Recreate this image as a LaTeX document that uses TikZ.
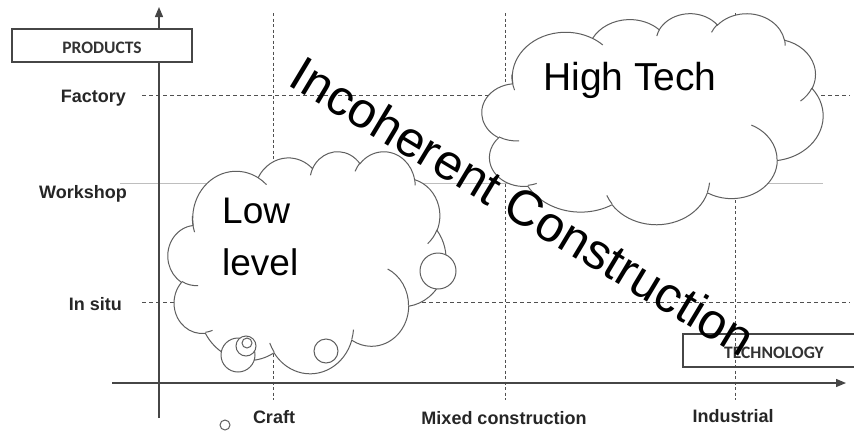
\documentclass[tikz,border=0pt]{standalone}
\usepackage{fontspec}
\setmainfont{Liberation Sans}
\newfontfamily\capsfont{Carlito}
\usetikzlibrary{arrows.meta}

% elliptical arc whose angles are visual (clockwise, y pointing down)
\newcommand\carc[4]{arc[x radius=#1, y radius=#2,
  start angle={atan2(#1*sin(#3),#2*cos(#3))},
  delta angle={mod(atan2(#1*sin(#3+#4),#2*cos(#3+#4))-atan2(#1*sin(#3),#2*cos(#3))+720,360)}]}

% cloud outline in a 432 x 432 box
\newcommand\cloudoutline{(39.00,143.70)
  \carc{67.53}{91.90}{-190.4875}{123.7805}
  \carc{53.33}{72.67}{-144.1024}{89.9452}
  \carc{43.65}{59.45}{-145.8079}{99.7230}
  \carc{48.57}{65.95}{-130.9861}{117.2417}
  \carc{53.33}{72.73}{-78.7089}{109.0269}
  \carc{67.75}{92.20}{-46.2673}{130.2690}
  \carc{57.85}{78.67}{0.6250}{114.0333}
  \carc{67.52}{92.15}{22.4516}{115.1726}
  \carc{77.20}{105.43}{66.2426}{75.7110}
  \carc{43.60}{59.18}{-274.9421}{146.7356}
  \carc{43.45}{59.45}{-246.8285}{152.5189} -- cycle}

% the small inner curls of the cloud
\newcommand\cloudcurls{
  (46.93,261.77) \carc{43.45}{59.45}{86.742}{26.4295}
  (69.28,348.99) \carc{43.60}{59.18}{73.6105}{11.4475}
  (164.78,390.90) \carc{67.52}{92.15}{137.6242}{14.0811}
  (288.27,347.51) \carc{67.52}{92.15}{6.4533}{15.9984}
  (341.29,229.54) \carc{57.85}{78.67}{-70.2924}{70.9174}
  (417.98,153.54) \carc{53.33}{72.73}{30.3180}{27.7515}
  (383.24,54.26) \carc{48.57}{65.95}{-13.7443}{14.8589}
  (290.78,39.52) \carc{48.57}{65.95}{-149.1815}{18.1954}
  (221.41,47.20) \carc{43.65}{59.45}{-163.4943}{17.3358}
  (140.00,51.92) \carc{67.53}{91.90}{-66.7070}{12.3194}
  (41.27,157.89) \carc{67.53}{91.90}{155.6353}{26.7459}}

\newcommand\drawcloud[4]{%
  \begin{scope}[shift={(#1,#2)}, x=#3pt, y=-#4pt]
    \filldraw[cloudline, fill=white] \cloudoutline;
    \draw[cloudline] \cloudcurls;
  \end{scope}}

\definecolor{axisgrey}{RGB}{70,70,70}
\definecolor{gridgrey}{RGB}{80,80,80}
\definecolor{cloudgrey}{RGB}{95,95,95}
\definecolor{thingrey}{RGB}{190,190,190}

\tikzset{
  axisline/.style={draw=axisgrey, line width=1.3pt, -{Triangle[length=10pt,width=8pt]}},
  gridline/.style={draw=gridgrey, line width=0.9pt, dash pattern=on 4pt off 3pt},
  gridvline/.style={draw=gridgrey, line width=0.9pt, dash pattern=on 3pt off 2.5pt},
  cloudline/.style={draw=cloudgrey, line width=1pt},
  labelbox/.style={draw=axisgrey, line width=1.2pt},
  boxtext/.style={font=\capsfont\bfseries\fontsize{17.5}{17.5}\selectfont, text=black!80, inner sep=0pt},
  axislabel/.style={font=\bfseries\fontsize{18}{18}\selectfont, text=black!85, inner sep=0pt},
  cloudtext/.style={font=\fontsize{37}{37}\selectfont, inner sep=0pt},
  bubble/.style={draw=cloudgrey, line width=1pt, fill=white},
}

\begin{document}
\begin{tikzpicture}[x=1pt, y=-1pt]
  \useasboundingbox[fill=white] (0,0) rectangle (854,434);

  % grid
  \coordinate (fl) at (142,95);  \coordinate (fr) at (850,95);
  \coordinate (sl) at (142,302); \coordinate (sr) at (850,302);
  \coordinate (wl) at (120,183); \coordinate (wr) at (823,183);
  \coordinate (ct) at (273,13);  \coordinate (cb) at (273,400);
  \coordinate (mt) at (505,13);  \coordinate (mb) at (505,400);
  \coordinate (it) at (735,13);  \coordinate (ib) at (735,400);
  \draw[gridline] (fl) -- (fr);
  \draw[gridline] (sl) -- (sr);
  \draw[draw=thingrey, line width=1pt] (wl) -- (wr);
  \draw[gridvline] (ct) -- (cb);
  \draw[gridvline] (mt) -- (mb);
  \draw[gridvline] (it) -- (ib);

  % axes
  \coordinate (yb) at (159,418); \coordinate (yt) at (159,7);
  \coordinate (xl) at (112,383); \coordinate (xr) at (846,383);
  \draw[axisline] (yb) -- (yt);
  \draw[axisline] (xl) -- (xr);

  % axis titles
  \draw[labelbox, fill=white] (12,29) rectangle (192,62);
  \node[boxtext, anchor=base] (products) at (102,53) {PRODUCTS};
  \draw[labelbox] (683,334) rectangle (870,367);
  \node[boxtext, anchor=base] (technology) at (774,358) {TECHNOLOGY};

  % level labels
  \node[axislabel, anchor=base east] (factory) at (126,102) {Factory};
  \node[axislabel, anchor=base east] (workshop) at (127,198) {Workshop};
  \node[axislabel, anchor=base east] (insitu) at (122,310) {In situ};
  \node[axislabel, anchor=base] (craft) at (274,423) {Craft};
  \node[axislabel, anchor=base] (mixed) at (504,424) {Mixed construction};
  \node[axislabel, anchor=base] (industrial) at (733,422) {Industrial};

  % clouds
  \drawcloud{168}{151}{0.6435}{0.5139}
  \drawcloud{482}{13}{0.7894}{0.4884}

  % bubbles
  \draw[bubble] (438,271) circle[radius=18];
  \draw[bubble] (326,351) circle[radius=12];
  \draw[bubble] (238,355) circle[radius=17];
  \draw[bubble] (246,346) circle[radius=10];
  \draw[bubble] (247,343) circle[radius=5];
  \draw[bubble] (225,425) circle[radius=5];

  % cloud texts
  \node[cloudtext, anchor=base west] (low) at (222,223) {Low};
  \node[cloudtext, anchor=base west] (level) at (222,275) {level};
  \node[cloudtext, font=\fontsize{39}{39}\selectfont, anchor=base west] (hightech) at (543,90) {High Tech};

  \node[font=\fontsize{50}{50}\selectfont, inner sep=0pt, rotate=-31] (incoherent) at (523,206) {Incoherent Construction};
\end{tikzpicture}
\end{document}
